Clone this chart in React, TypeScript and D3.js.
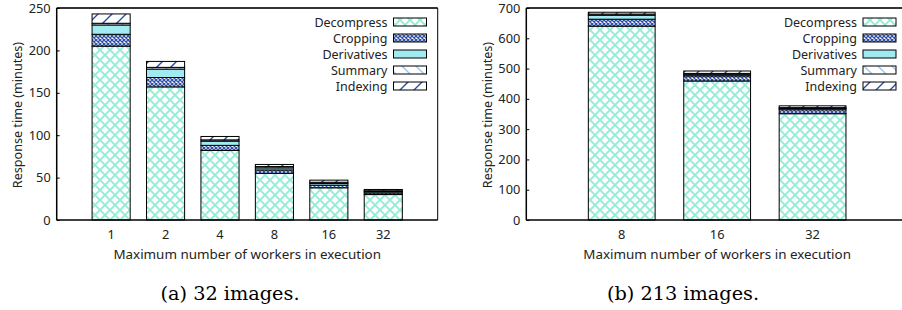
import { useRef, useEffect } from "react";
import * as d3 from "d3";

// (a) 32 images
const workersA = ["1", "2", "4", "8", "16", "32"];
const decompressA = [205, 157, 82, 55, 38, 30];
const croppingA = [14, 11, 6, 4, 3, 2];
const derivativesA = [11, 10, 5, 2.5, 2, 1.5];
const summaryA = [2, 2, 1.5, 1.5, 1.5, 1];
const indexingA = [11, 7, 4, 2.5, 2.5, 1.5];
const yTicksA = [0, 50, 100, 150, 200, 250];

// (b) 213 images
const workersB = ["8", "16", "32"];
const decompressB = [640, 459, 351];
const croppingB = [23, 17, 13];
const derivativesB = [13, 4, 4];
const summaryB = [4, 4, 3];
const indexingB = [6, 8, 6];
const yTicksB = [0, 100, 200, 300, 400, 500, 600, 700];

const stages = ["Decompress", "Cropping", "Derivatives", "Summary", "Indexing"];
const fills = ["url(#pDecomp)", "url(#pCrop)", "#a0eaf0", "url(#pSumm)", "url(#pIdx)"];

const FONT = "'Noto Sans', sans-serif";

const App = () => {
  const svgRef = useRef<SVGSVGElement>(null);

  useEffect(() => {
    const svg = d3.select(svgRef.current);
    svg.selectAll("*").remove();

    // patterns
    const defs = svg.append("defs");
    const dec = defs.append("pattern").attr("id", "pDecomp").attr("patternUnits", "userSpaceOnUse")
      .attr("width", 10).attr("height", 10);
    dec.append("rect").attr("width", 10).attr("height", 10).attr("fill", "#fff");
    dec.append("path").attr("d", "M-1,-1 L11,11 M11,-1 L-1,11")
      .attr("stroke", "#93ecd5").attr("stroke-width", 1.9);

    const crop = defs.append("pattern").attr("id", "pCrop").attr("patternUnits", "userSpaceOnUse")
      .attr("width", 4).attr("height", 4);
    crop.append("rect").attr("width", 4).attr("height", 4).attr("fill", "#fff");
    crop.append("path").attr("d", "M-1,-1 L5,5 M5,-1 L-1,5")
      .attr("stroke", "#2f52a8").attr("stroke-width", 1.3);

    const summ = defs.append("pattern").attr("id", "pSumm").attr("patternUnits", "userSpaceOnUse")
      .attr("width", 14).attr("height", 14);
    summ.append("rect").attr("width", 14).attr("height", 14).attr("fill", "#fff");
    summ.append("path").attr("d", "M0,0 L14,14 M-7,7 L7,21 M7,-7 L21,7")
      .attr("stroke", "#9cc6f2").attr("stroke-width", 1.4);

    const idx = defs.append("pattern").attr("id", "pIdx").attr("patternUnits", "userSpaceOnUse")
      .attr("width", 14).attr("height", 14);
    idx.append("rect").attr("width", 14).attr("height", 14).attr("fill", "#fff");
    idx.append("path").attr("d", "M0,14 L14,0 M-7,7 L7,-7 M7,21 L21,7")
      .attr("stroke", "#2a4c9e").attr("stroke-width", 1.4);

    const drawPanel = (
      cats: string[], series: number[][], yMax: number, ticks: number[],
      left: number, right: number, legendRight: number, caption: string, captionX: number
    ) => {
      const top = 8, bottom = 220;
      const g = svg.append("g");

      const x = d3.scaleLinear().domain([-1, cats.length]).range([left, right]);
      const y = d3.scaleLinear().domain([0, yMax]).range([bottom, top]);
      const barW = x(0.7) - x(0);

      // stacked bars
      const rows = cats.map((c, i) => {
        const r: any = { cat: c };
        stages.forEach((s, k) => (r[s] = series[k][i]));
        return r;
      });
      const stacked = d3.stack().keys(stages)(rows);
      stacked.forEach((layer, k) => {
        g.append("g").selectAll("rect")
          .data(layer)
          .join("rect")
          .attr("x", (d, i) => x(i) - barW / 2)
          .attr("y", d => y(d[1]))
          .attr("width", barW)
          .attr("height", d => y(d[0]) - y(d[1]))
          .attr("fill", fills[k])
          .attr("stroke", "#000")
          .attr("stroke-width", 1);
      });

      // frame
      g.append("line").attr("x1", left).attr("x2", left).attr("y1", top).attr("y2", bottom)
        .attr("stroke", "#000").attr("stroke-width", 1.5);
      g.append("line").attr("x1", left).attr("x2", right).attr("y1", bottom).attr("y2", bottom)
        .attr("stroke", "#000").attr("stroke-width", 1.5);
      g.append("line").attr("x1", left).attr("x2", right).attr("y1", top).attr("y2", top)
        .attr("stroke", "#333").attr("stroke-width", 1.8);
      g.append("line").attr("x1", right).attr("x2", right).attr("y1", top).attr("y2", bottom)
        .attr("stroke", "#000").attr("stroke-width", 1);

      // y axis
      g.append("g")
        .attr("transform", `translate(${left},0)`)
        .call(d3.axisLeft(y).tickValues(ticks).tickSize(-3).tickPadding(6))
        .call(a => a.select(".domain").remove())
        .call(a => a.selectAll(".tick line").attr("stroke", "#000"))
        .selectAll("text")
        .attr("fill", "#222")
        .style("font-family", FONT)
        .style("font-size", "12.8px");

      // x tick labels
      g.append("g").selectAll("text")
        .data(cats)
        .join("text")
        .attr("x", (d, i) => x(i))
        .attr("y", 239)
        .attr("text-anchor", "middle")
        .attr("fill", "#222")
        .style("font-family", FONT)
        .style("font-size", "12.8px")
        .text(d => d);

      // axis titles
      g.append("text")
        .attr("transform", `translate(${left - 39},${(top + bottom) / 2 + 1}) rotate(-90)`)
        .attr("text-anchor", "middle")
        .attr("dominant-baseline", "central")
        .attr("fill", "#222")
        .style("font-family", FONT)
        .style("font-size", "12.6px")
        .text("Response time (minutes)");

      g.append("text")
        .attr("x", x((cats.length - 1) / 2))
        .attr("y", 259)
        .attr("text-anchor", "middle")
        .attr("fill", "#222")
        .style("font-family", FONT)
        .style("font-size", "13.4px")
        .text("Maximum number of workers in execution");

      // legend
      const lg = g.append("g");
      stages.forEach((s, k) => {
        const cy = 22 + k * 16;
        lg.append("text")
          .attr("x", legendRight - 39)
          .attr("y", cy)
          .attr("text-anchor", "end")
          .attr("dominant-baseline", "central")
          .attr("fill", "#222")
          .style("font-family", FONT)
          .style("font-size", "12.5px")
          .text(s);
        lg.append("rect")
          .attr("x", legendRight - 33)
          .attr("y", cy - 4)
          .attr("width", 33)
          .attr("height", 8)
          .attr("fill", fills[k])
          .attr("stroke", "#000")
          .attr("stroke-width", 1);
      });

      // caption
      g.append("text")
        .attr("x", captionX)
        .attr("y", 300)
        .attr("text-anchor", "middle")
        .attr("fill", "#000")
        .style("font-family", "'DejaVu Serif', serif")
        .style("font-size", "19.3px")
        .text(caption);
    };

    drawPanel(workersA, [decompressA, croppingA, derivativesA, summaryA, indexingA],
      250, yTicksA, 56.7, 437.7, 426.5, "(a) 32 images.", 230);
    drawPanel(workersB, [decompressB, croppingB, derivativesB, summaryB, indexingB],
      700, yTicksB, 526.3, 908, 896, "(b) 213 images.", 683);
  }, []);

  return (
    <svg ref={svgRef} width={902} height={310}
      style={{ position: "absolute", left: 0, top: 0, background: "#fff" }} />
  );
};

export default App;
